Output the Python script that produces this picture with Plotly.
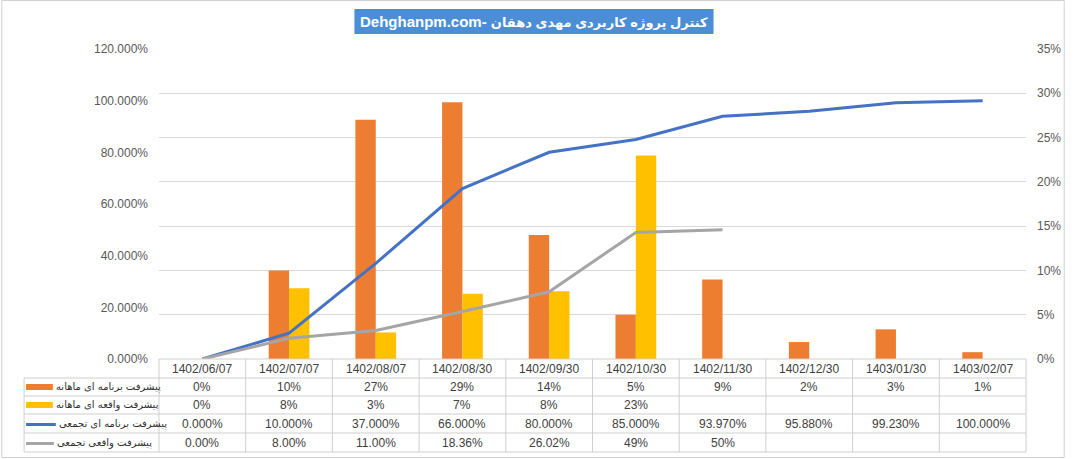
import plotly.graph_objects as go

# ---------------- data ----------------
categories = ["1402/06/07", "1402/07/07", "1402/08/07", "1402/08/30", "1402/09/30",
              "1402/10/30", "1402/11/30", "1402/12/30", "1403/01/30", "1403/02/07"]

plan_monthly = [0, 10, 27, 29, 14, 5, 8.97, 1.91, 3.35, 0.77]
actual_monthly = [0, 8, 3, 7.36, 7.66, 22.98, None, None, None, None]
plan_cum = [0, 10, 37, 66, 80, 85, 93.97, 95.88, 99.23, 100]
actual_cum = [0, 8, 11, 18.36, 26.02, 49, 50, None, None, None]

plan_monthly_txt = ["0%", "10%", "27%", "29%", "14%", "5%", "9%", "2%", "3%", "1%"]
actual_monthly_txt = ["0%", "8%", "3%", "7%", "8%", "23%", "", "", "", ""]
plan_cum_txt = ["0.000%", "10.000%", "37.000%", "66.000%", "80.000%", "85.000%",
                "93.970%", "95.880%", "99.230%", "100.000%"]
actual_cum_txt = ["0.00%", "8.00%", "11.00%", "18.36%", "26.02%", "49%", "50%", "", "", ""]

series_names = ["پیشرفت برنامه ای ماهانه", "پیشرفت واقعه ای ماهانه",
                "پیشرفت برنامه ای تجمعی", "پیشرفت واقعی تجمعی"]
title_latin = "Dehghanpm.com- "
title_persian = "کنترل پروژه کاربردی مهدی دهقان"

left_ticks = [0, 20, 40, 60, 80, 100, 120]
left_ticktext = ["0.000%", "20.000%", "40.000%", "60.000%", "80.000%", "100.000%", "120.000%"]
right_ticks = [0, 5, 10, 15, 20, 25, 30, 35]
right_ticktext = ["0%", "5%", "10%", "15%", "20%", "25%", "30%", "35%"]

# ---------------- style ----------------
ORANGE = "#ED7D31"
YELLOW = "#FFC000"
BLUE = "#4472C4"
GRAY = "#A5A5A5"
GRID = "#D9D9D9"
TABLE = "#CFCFCF"
TXT = "#404040"
FONT = "Liberation Sans, DejaVu Sans, sans-serif"

W, H = 1073, 459
L, R, T, B = 159, 40, 49, 100
PW, PH = W - L - R, H - T - B
BOT = H - B


def pxx(p):
    return (p - L) / PW


def pxy(p):
    return (BOT - p) / PH


n = len(categories)
fig = go.Figure()

fig.add_trace(go.Bar(x=categories, y=plan_monthly, name=series_names[0],
                     marker=dict(color=ORANGE, line=dict(width=0)), yaxis="y"))
fig.add_trace(go.Bar(x=categories, y=actual_monthly, name=series_names[1],
                     marker=dict(color=YELLOW, line=dict(width=0)), yaxis="y"))
fig.add_trace(go.Scatter(x=categories, y=plan_cum, name=series_names[2], mode="lines",
                         line=dict(color=BLUE, width=3), yaxis="y2"))
fig.add_trace(go.Scatter(x=categories, y=actual_cum, name=series_names[3], mode="lines",
                         line=dict(color=GRAY, width=3), yaxis="y2"))

fig.update_layout(
    width=W, height=H,
    margin=dict(l=L, r=R, t=T, b=B),
    paper_bgcolor="white", plot_bgcolor="white",
    showlegend=False,
    barmode="group", bargap=0.53, bargroupgap=0,
    font=dict(family=FONT, size=11, color=TXT),
    xaxis=dict(type="category", range=[-0.5, n - 0.5], showticklabels=False,
               showgrid=False, zeroline=False, showline=False, ticks=""),
    yaxis=dict(side="right", range=[0, 35], tickmode="array", tickvals=right_ticks,
               ticktext=right_ticktext, showgrid=True, gridcolor=GRID, gridwidth=1,
               zeroline=False, showline=False, ticks="", ticklabelstandoff=10,
               tickfont=dict(size=12, color="#595959", family=FONT)),
    yaxis2=dict(side="left", overlaying="y", range=[0, 120], tickmode="array",
                tickvals=left_ticks, ticktext=left_ticktext, showgrid=False,
                zeroline=False, showline=False, ticks="", ticklabelstandoff=10,
                tickfont=dict(size=12, color="#595959", family=FONT)),
)

shapes = []
annotations = []

# outer border
shapes.append(dict(type="rect", xref="paper", yref="paper",
                   x0=pxx(0.5), x1=pxx(W - 1.5), y0=pxy(H - 1.5), y1=pxy(0.5),
                   line=dict(color="#D0D0D0", width=1), fillcolor="rgba(0,0,0,0)"))

# title box
shapes.append(dict(type="rect", xref="paper", yref="paper",
                   x0=pxx(356), x1=pxx(718), y0=pxy(34), y1=pxy(9),
                   fillcolor="#4C8ED6", line=dict(width=0), layer="below"))
annotations.append(dict(text="<b>" + title_latin + "<span style='font-size:13px'>" + title_persian + "</span></b>",
                        xref="paper", yref="paper",
                        x=pxx(537), y=pxy(21.5), showarrow=False,
                        font=dict(size=15, color="white", family="Liberation Sans, DejaVu Sans"),
                        xanchor="center", yanchor="middle"))

# data table geometry
row_edges = [BOT, 378, 396, 414, 433, 452]
legend_left = 23

shapes.append(dict(type="line", xref="paper", yref="paper", x0=0, x1=1,
                   y0=pxy(row_edges[0]), y1=pxy(row_edges[0]),
                   line=dict(color=TABLE, width=1)))
for e in row_edges[1:]:
    shapes.append(dict(type="line", xref="paper", yref="paper", x0=pxx(legend_left), x1=1,
                       y0=pxy(e), y1=pxy(e), line=dict(color=TABLE, width=1)))
for i in range(n + 1):
    shapes.append(dict(type="line", xref="paper", yref="paper", x0=i / n, x1=i / n,
                       y0=pxy(row_edges[0]), y1=pxy(row_edges[-1]),
                       line=dict(color=TABLE, width=1)))
shapes.append(dict(type="line", xref="paper", yref="paper", x0=pxx(legend_left), x1=pxx(legend_left),
                   y0=pxy(row_edges[1]), y1=pxy(row_edges[-1]),
                   line=dict(color=TABLE, width=1)))

rows = [categories, plan_monthly_txt, actual_monthly_txt, plan_cum_txt, actual_cum_txt]
for r, row in enumerate(rows):
    yc = pxy((row_edges[r] + row_edges[r + 1]) / 2)
    for i, t in enumerate(row):
        if t == "":
            continue
        annotations.append(dict(text=t, xref="paper", yref="paper", x=(i + 0.5) / n, y=yc,
                                showarrow=False, xanchor="center", yanchor="middle",
                                font=dict(size=12, color=TXT, family=FONT)))

# legend keys in table
key_colors = [ORANGE, YELLOW, BLUE, GRAY]
key_ends = [52, 52, 55, 53]
for k in range(4):
    y0p, y1p = row_edges[k + 1], row_edges[k + 2]
    yc = (y0p + y1p) / 2
    if k < 2:
        shapes.append(dict(type="rect", xref="paper", yref="paper",
                           x0=pxx(25), x1=pxx(key_ends[k]), y0=pxy(yc + 3), y1=pxy(yc - 3),
                           fillcolor=key_colors[k], line=dict(width=0)))
    else:
        shapes.append(dict(type="line", xref="paper", yref="paper",
                           x0=pxx(25), x1=pxx(key_ends[k]), y0=pxy(yc + 1), y1=pxy(yc + 1),
                           line=dict(color=key_colors[k], width=3)))
    annotations.append(dict(text=series_names[k], xref="paper", yref="paper",
                            x=pxx(key_ends[k] + 1), y=pxy(yc), showarrow=False,
                            xanchor="left", yanchor="middle",
                            font=dict(size=10, color="#303030", family="DejaVu Sans")))

fig.update_layout(shapes=shapes, annotations=annotations)
fig.write_html("out.html")
